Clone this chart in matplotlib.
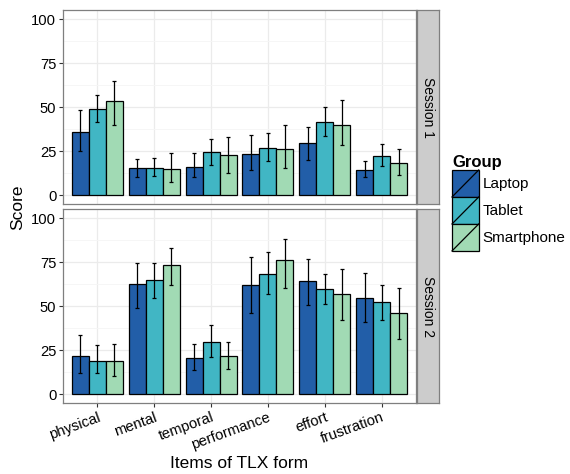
import numpy as np
import matplotlib.pyplot as plt
from matplotlib.patches import Rectangle, Patch
from matplotlib.lines import Line2D
from matplotlib.legend_handler import HandlerBase
from matplotlib.ticker import MultipleLocator

plt.rcParams['font.family'] = ['Liberation Sans', 'DejaVu Sans']

items = ['physical', 'mental', 'temporal', 'performance', 'effort', 'frustration']
groups = ['Laptop', 'Tablet', 'Smartphone']
colors = ['#225EA8', '#41B6C4', '#A1DAB4']
sessions = ['Session 1', 'Session 2']

# mean scores, per session, per group (rows) over items
s1_mean = [[36.1, 15.3, 16.3, 23.4, 29.7, 14.7],
           [49.3, 15.5, 24.6, 26.8, 41.6, 22.3],
           [53.7, 15.1, 22.7, 26.3, 39.9, 18.7]]
s1_hi = [[48.2, 20.6, 24.2, 34.2, 38.9, 19.7],
         [56.9, 21.0, 32.1, 35.2, 50.1, 29.1],
         [64.8, 24.0, 33.3, 39.9, 54.3, 26.3]]
s1_lo = [[25.5, 10.2, 10.6, 14.6, 20.2, 10.2],
         [41.8, 10.8, 17.2, 19.3, 33.8, 16.6],
         [40.1, 7.9, 12.5, 15.5, 28.4, 11.7]]

s2_mean = [[21.7, 62.8, 20.9, 62.3, 64.3, 54.9],
           [19.2, 65.1, 30.0, 68.3, 59.6, 52.3],
           [18.9, 73.2, 21.9, 76.2, 57.2, 46.2]]
s2_hi = [[34.0, 74.3, 28.9, 77.9, 76.8, 69.1],
         [28.1, 74.5, 39.4, 80.8, 68.1, 61.9],
         [28.5, 82.8, 29.6, 88.3, 71.3, 60.2]]
s2_lo = [[12.3, 49.1, 13.8, 46.2, 50.9, 41.1],
         [11.9, 54.7, 21.1, 57.0, 51.1, 42.5],
         [10.2, 62.3, 14.2, 60.4, 42.3, 31.7]]

W, H = 570, 474
fig = plt.figure(figsize=(W / 100, H / 100), dpi=100)

panel_x0, panel_w = 63.3, 352.4
panel_tops = [10.3, 209.3]
panel_h = 194

data = [(s1_mean, s1_lo, s1_hi), (s2_mean, s2_lo, s2_hi)]
x = np.arange(1, len(items) + 1)
bw = 0.3

for k, (top, (mean, lo, hi)) in enumerate(zip(panel_tops, data)):
    ax = fig.add_axes([panel_x0 / W, 1 - (top + panel_h) / H, panel_w / W, panel_h / H])
    ax.set_xlim(0.4, 6.6)
    ax.set_ylim(-5, 105)
    ax.yaxis.set_major_locator(MultipleLocator(25))
    ax.yaxis.set_minor_locator(MultipleLocator(12.5))
    ax.set_xticks(x)
    ax.grid(which='major', color='#EBEBEB', lw=0.9)
    ax.grid(which='minor', axis='y', color='#F5F5F5', lw=0.6)
    ax.set_axisbelow(True)
    for sp in ax.spines.values():
        sp.set_color('#7F7F7F')
        sp.set_linewidth(0.9)
    for g in range(3):
        xs = x + (g - 1) * bw
        m = np.array(mean[g])
        ax.bar(xs, m, width=bw, color=colors[g], edgecolor='black', linewidth=0.9, zorder=2)
        ax.errorbar(xs, m, yerr=[m - np.array(lo[g]), np.array(hi[g]) - m],
                    fmt='none', ecolor='black', elinewidth=0.9, capsize=1.6,
                    capthick=0.9, zorder=3)
    ax.tick_params(axis='both', labelsize=10.6, color='#333333', length=3,
                   labelcolor='black', width=0.8, pad=2)
    ax.tick_params(which='minor', length=0)
    if k == 0:
        ax.tick_params(axis='x', labelbottom=False, length=0)
    else:
        ax.set_xticklabels(items, rotation=20, ha='right', rotation_mode='anchor')
    # strip
    sax = fig.add_axes([417 / W, 1 - (top + panel_h) / H, 22 / W, panel_h / H])
    sax.set_facecolor('#CCCCCC')
    sax.set_xticks([])
    sax.set_yticks([])
    for sp in sax.spines.values():
        sp.set_color('#7F7F7F')
        sp.set_linewidth(0.9)
    sax.text(0.5, 0.5, sessions[k], rotation=-90, ha='center', va='center',
             fontsize=10, transform=sax.transAxes)

fig.text(18 / W, 1 - 207 / H, 'Score', rotation=90, ha='center', va='center', fontsize=12.5)
fig.text(239 / W, 1 - 463 / H, 'Items of TLX form', ha='center', va='center', fontsize=12.5)


class SlashHandler(HandlerBase):
    def create_artists(self, legend, orig_handle, xdescent, ydescent, width, height, fontsize, trans):
        r = Rectangle((-xdescent, -ydescent), width, height,
                      facecolor=orig_handle.get_facecolor(), edgecolor='black',
                      lw=0.9, transform=trans)
        l = Line2D([-xdescent, -xdescent + width], [-ydescent, -ydescent + height],
                   color='black', lw=0.9, transform=trans)
        return [r, l]


handles = [Patch(facecolor=c, label=g) for c, g in zip(colors, groups)]
leg = fig.legend(handles=handles, loc='upper left', bbox_to_anchor=(452 / W, 1 - 155 / H),
                 frameon=False, fontsize=11, title='Group', alignment='left',
                 title_fontproperties={'weight': 'bold', 'size': 12},
                 handler_map={Patch: SlashHandler()}, handlelength=1.75, handleheight=2.34,
                 labelspacing=0, handletextpad=0.25, borderpad=0, borderaxespad=0)

plt.savefig('out.png', dpi=100)
